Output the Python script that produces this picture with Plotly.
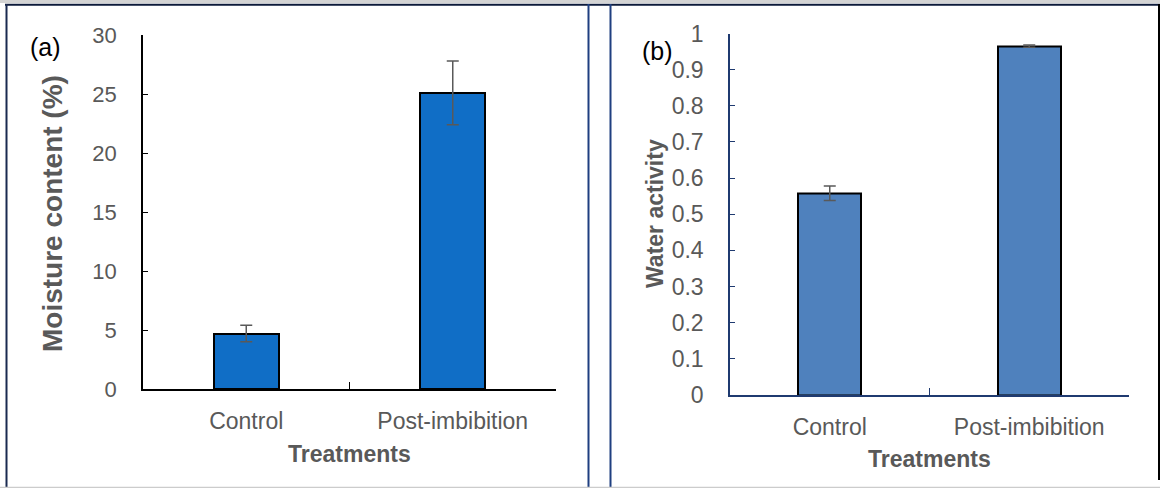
import plotly.graph_objects as go

# ---- data ----
categories = ["Control", "Post-imbibition"]
moisture = [4.7, 25.1]
moisture_err = [0.7, 2.7]
water_activity = [0.558, 0.965]
water_activity_err = [0.02, 0.003]
moisture_ticks = [0, 5, 10, 15, 20, 25, 30]
aw_ticks = [0, 0.1, 0.2, 0.3, 0.4, 0.5, 0.6, 0.7, 0.8, 0.9, 1]
aw_tick_text = ["0", "0.1", "0.2", "0.3", "0.4", "0.5", "0.6", "0.7", "0.8", "0.9", "1"]

W, H = 1160, 488
def px(x):
    return x / W
def py(y):
    return 1 - y / H

FONT = "Liberation Sans, Arial, sans-serif"
GRAY = "#595959"

fig = go.Figure()
fig.add_trace(go.Bar(
    x=categories, y=moisture, xaxis="x", yaxis="y", width=0.315,
    marker=dict(color="#106EC6", line=dict(color="black", width=2)),
    error_y=dict(type="data", array=moisture_err, color=GRAY, thickness=1.5, width=6),
    showlegend=False,
))
fig.add_trace(go.Bar(
    x=categories, y=water_activity, xaxis="x2", yaxis="y2", width=0.315,
    marker=dict(color="#4F81BD", line=dict(color="black", width=2)),
    error_y=dict(type="data", array=water_activity_err, color=GRAY, thickness=1.5, width=6),
    showlegend=False,
))

common_x = dict(type="category", tickson="boundaries", ticks="inside", ticklen=7,
                showline=True, linewidth=1.5, showgrid=False, zeroline=False, automargin=False,
                tickfont=dict(family=FONT, size=23, color=GRAY), ticklabelstandoff=11)
common_y = dict(ticks="inside", ticklen=5, showline=True, linewidth=1.5, automargin=False,
                showgrid=False, zeroline=False, ticklabelstandoff=20)

NAVY = "#1F3A70"
fig.update_layout(
    template="none",
    width=W, height=H, autosize=False,
    margin=dict(l=0, r=0, t=0, b=0, pad=0),
    paper_bgcolor="white", plot_bgcolor="white",
    bargap=0, showlegend=False,
    font=dict(family=FONT, color=GRAY),
    xaxis=dict(domain=[px(143), px(556)], anchor="y", linecolor="black", tickcolor="black", **common_x),
    yaxis=dict(domain=[py(389), py(35)], anchor="x", range=[0, 30], tickvals=moisture_ticks,
               linecolor="black", tickcolor="black",
               tickfont=dict(family=FONT, size=22, color=GRAY), **common_y),
    xaxis2=dict(domain=[px(730), px(1129)], anchor="y2", linecolor=NAVY, tickcolor=NAVY, **common_x),
    yaxis2=dict(domain=[py(395), py(33.5)], anchor="x2", range=[0, 1], tickvals=aw_ticks,
                ticktext=aw_tick_text, linecolor=NAVY, tickcolor=NAVY,
                tickfont=dict(family=FONT, size=23, color=GRAY), **common_y),
)

def ann(text, x, y, size, bold=False, color=GRAY, angle=0):
    fig.add_annotation(
        text=f"<b>{text}</b>" if bold else text,
        x=px(x), y=py(y), xref="paper", yref="paper", showarrow=False,
        xanchor="center", yanchor="middle", textangle=angle,
        font=dict(family=FONT, size=size, color=color),
    )

ann("Treatments", 349.5, 454, 23, bold=True)
ann("Treatments", 929.5, 459, 23, bold=True)
ann("Moisture content (%)", 52, 214, 28, bold=True, angle=-90)
ann("Water activity", 655, 214, 23, bold=True, angle=-90)
ann("(a)", 45, 47, 25, color="black")
ann("(b)", 657, 51, 25, color="black")

def line(x0, y0, x1, y1, color, width):
    fig.add_shape(type="line", xref="paper", yref="paper",
                  x0=px(x0), y0=py(y0), x1=px(x1), y1=py(y1),
                  line=dict(color=color, width=width))

line(0, 1.5, W, 1.5, "#D4D4D4", 3)
line(5, 4.8, 1160, 4.8, "#0D1A3A", 2)
line(6.5, 4, 6.5, 487, "#1A2A50", 2)
line(588.5, 4, 588.5, 487, "#1F3F80", 2)
line(610.5, 4, 610.5, 487, "#1F3F80", 2)
line(1159, 4, 1159, 480, "black", 2)
line(0, 487.5, W, 487.5, "#CCCCCC", 1.5)

fig.write_html(
    "out.html",
    post_script="document.body.style.margin='0';document.documentElement.style.margin='0';"
                "document.documentElement.style.overflow='hidden';document.body.style.overflow='hidden';",
)
